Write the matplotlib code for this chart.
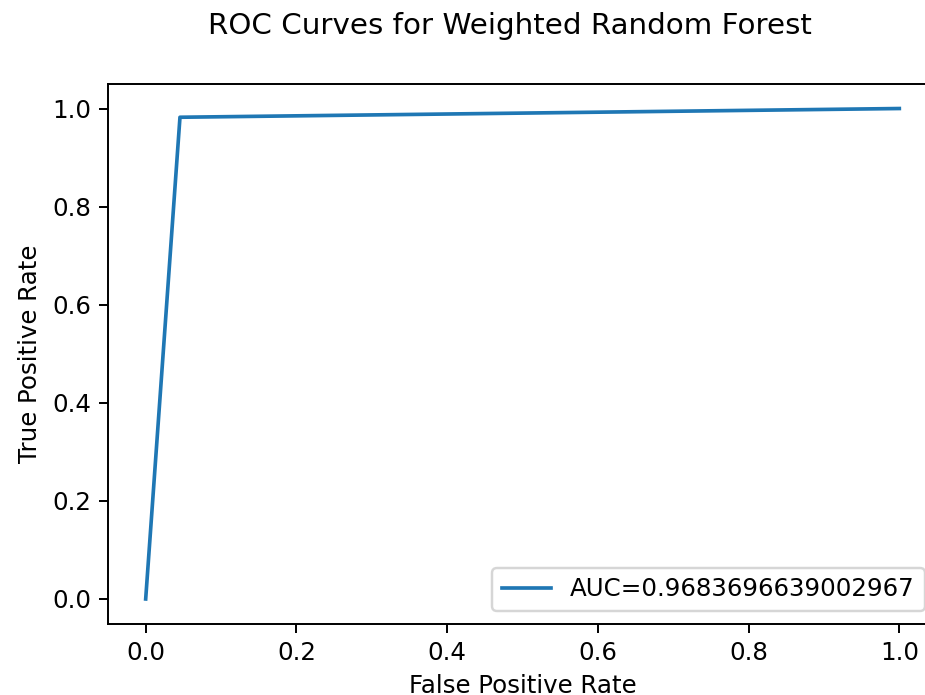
import matplotlib
matplotlib.use("Agg")
import matplotlib.pyplot as plt

fpr = [0.0, 0.0455, 1.0]
tpr = [0.0, 0.9822, 1.0]
auc_label = "AUC=0.9683696639002967"
title = "ROC Curves for Weighted Random Forest"

W, H = 925, 695
dpi = 176
fig = plt.figure(figsize=(W / dpi, H / dpi), dpi=dpi)
left, right, top, bottom = 108, 937, 84, 623.5
ax = fig.add_axes([left / W, 1 - bottom / H, (right - left) / W, (bottom - top) / H])
ax.plot(fpr, tpr, label=auc_label)
ax.set_xlabel("False Positive Rate")
ax.set_ylabel("True Positive Rate")
ax.legend(loc=4)
fig.suptitle(title, x=510 / W, y=1 - 12 / H)
fig.savefig("out.png", dpi=dpi)
